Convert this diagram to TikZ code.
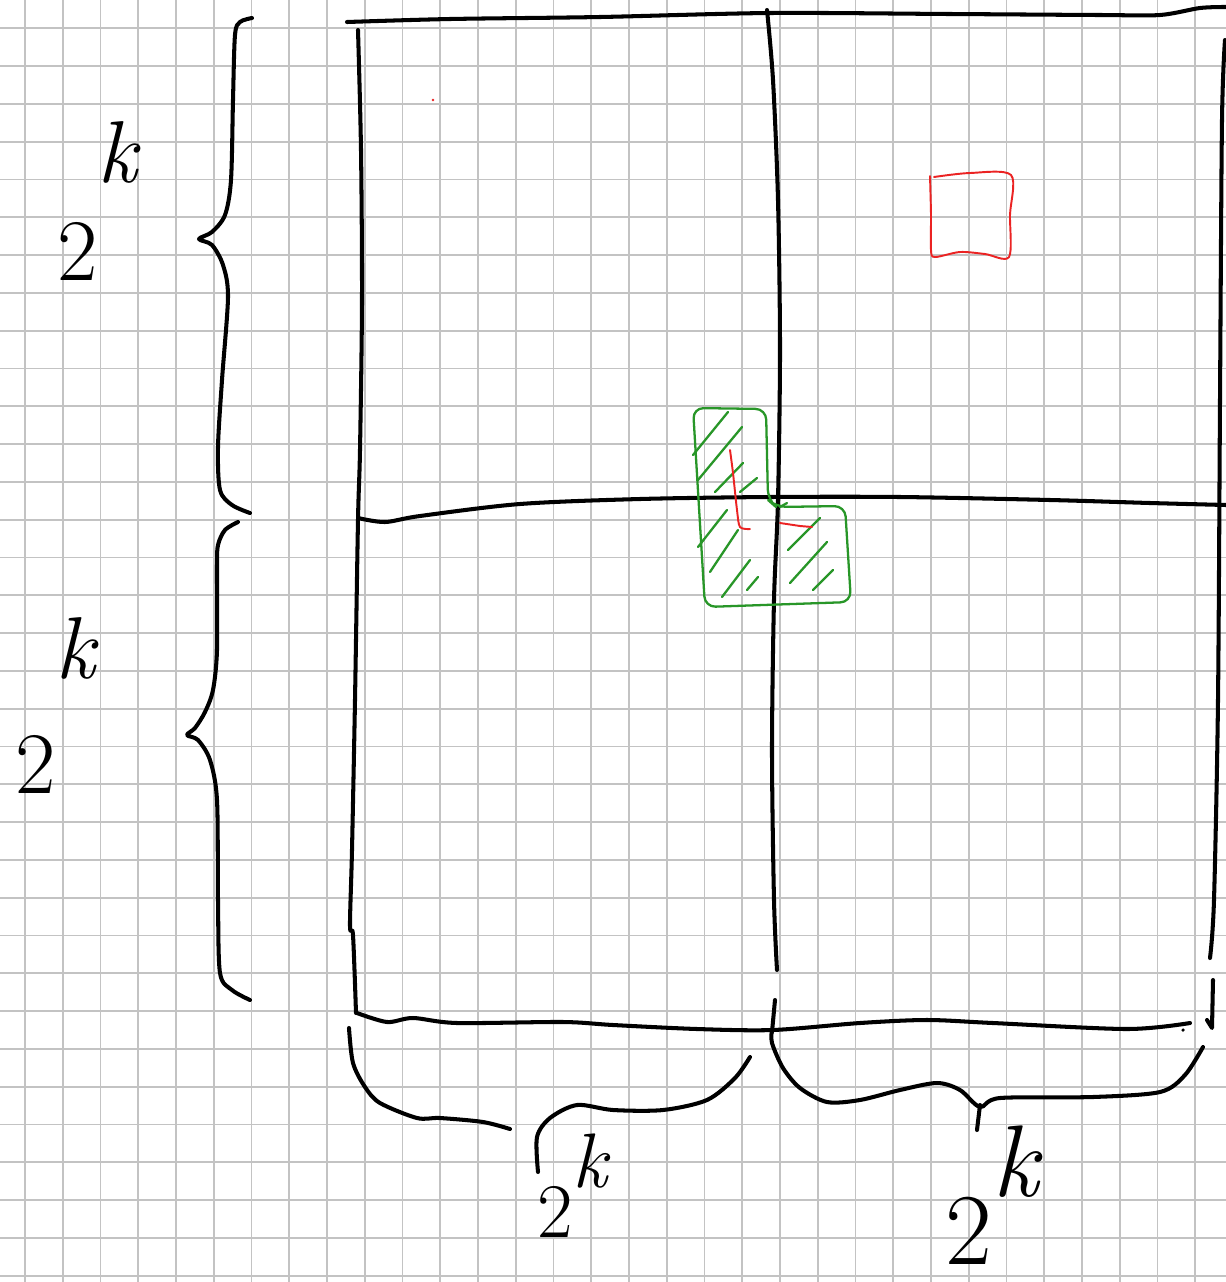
\documentclass[tikz,border=0pt]{standalone}
\usepackage{tikz}

\definecolor{inkgreen}{RGB}{40,150,40}
\definecolor{inkred}{RGB}{235,35,35}
\definecolor{gridgray}{RGB}{195,195,195}

% 2 with a raised k, raise given per label
\newcommand{\powk}[1]{2\raisebox{#1}{\itshape k}}

\begin{document}
\begin{tikzpicture}[x=0.02cm, y=-0.02cm,
    pen/.style={line width=2.3pt, line cap=round, line join=round},
    greenpen/.style={inkgreen, line width=1.3pt, line cap=round, line join=round},
    redpen/.style={inkred, line width=1.1pt, line cap=round, line join=round},
    gridline/.style={gridgray, line width=1pt},
    lbl/.style={inner sep=0pt, anchor=base west}]
    \useasboundingbox[fill=white] (0,0) rectangle (1226,1282);

    % squared paper
    \foreach \i in {0,...,31}
        \draw[gridline] ({25+37.75*\i},0) -- ({25+37.75*\i},1282);
    \foreach \j in {0,...,33}
        \draw[gridline] (0,{28.3+37.8*\j}) -- (1226,{28.3+37.8*\j});

    % outer square
    \draw[pen] plot[smooth] coordinates {(347,22) (450,19) (600,17) (770,13) (950,14) (1100,15) (1160,15) (1200,8) (1226,7)};
    \draw[pen] plot[smooth] coordinates {(358,30) (361,150) (362,300) (360,450) (358,520) (355,700) (352,850) (350,926) (353,935) (356,1013)};
    \draw[pen] plot[smooth] coordinates {(1225,40) (1222,120) (1220,400) (1218,700) (1214,900) (1210,958)};
    \draw[pen] (1213,980) -- (1212,1028) -- (1207,1020);
    \draw[pen] plot[smooth] coordinates {(357,1013) (387,1022) (413,1018) (457,1023) (563,1022) (613,1025) (697,1029) (773,1030) (860,1023) (927,1020) (993,1023) (1127,1029) (1190,1023)};
    \fill (1183,1030) circle (1pt);

    % quarters
    \draw[pen] plot[smooth] coordinates {(767,10) (773,80) (778,200) (780,350) (778,500) (774,600) (772,750) (774,900) (777,970)};
    \draw[pen] (775,1000) -- (772,1032);
    \draw[pen] plot[smooth] coordinates {(358,518) (385,522) (420,516) (520,504) (640,499) (770,497) (900,497) (1050,500) (1150,503) (1226,505)};

    % braces on the left
    \draw[pen] plot[smooth] coordinates {(252,18) (240,22) (235,35) (233,100) (231,180) (225,215) (212,232) (199,239) (212,245) (223,265) (228,297) (222,380) (218,447) (220,490) (232,505) (250,513)};
    \draw[pen] plot[smooth] coordinates {(238,522) (225,530) (218,545) (217,567) (217,650) (213,690) (205,712) (195,728) (187,735) (198,740) (210,760) (217,800) (218,900) (220,973) (232,990) (250,1000)};

    % braces below
    \draw[pen] plot[smooth] coordinates {(349,1028) (353,1063) (365,1087) (380,1103) (417,1118) (440,1118) (483,1122) (510,1129)};
    \draw[pen] plot[smooth] coordinates {(538,1172) (537,1137) (550,1118) (577,1105) (613,1110) (663,1110) (707,1100) (735,1078) (750,1057)};
    \draw[pen] plot[smooth] coordinates {(772,1030) (772,1043) (783,1068) (800,1088) (827,1102) (860,1100) (900,1090) (937,1083) (960,1090) (980,1107) (1000,1098) (1093,1097) (1160,1092) (1185,1075) (1203,1047)};
    \draw[pen] (980,1105) -- (977,1130);

    % labels
    \node[lbl, font=\fontsize{50}{50}\selectfont] (sideTop) at (57,280) {\powk{1.95cm}};
    \node[lbl, font=\fontsize{50}{50}\selectfont] (sideBot) at (15,793) {\powk{2.3cm}};
    \node[lbl, font=\fontsize{44}{44}\selectfont] (baseLeft) at (537,1237) {\powk{1.0cm}};
    \node[lbl, font=\fontsize{58}{58}\selectfont] (baseRight) at (945,1264) {\powk{1.35cm}};

    % hatched L around the centre
    \draw[greenpen, rounded corners=6pt] (693,408) -- (766,409) -- (768,500) -- (776,507) -- (845,506) -- (851,602) -- (705,607) -- cycle;
    \foreach \a/\b/\c/\d in {693/455/728/412, 698/480/742/427, 715/492/743/463, 740/492/757/478,
                             698/547/727/510, 710/572/738/530, 722/597/750/560, 747/590/758/577,
                             788/550/820/518, 790/583/827/542, 813/590/833/570, 780/507/787/503}
        \draw[greenpen] (\a,\b) -- (\c,\d);

    % red marks
    \draw[redpen] plot[smooth] coordinates {(730,450) (733,473) (737,510) (740,527) (750,529)};
    \draw[redpen] (780,523) -- (800,526) -- (812,527);
    \draw[redpen] plot[smooth] coordinates {(930,176) (931,215) (931,250) (935,257) (960,252) (985,254) (1009,257) (1010,215) (1011,175) (970,173) (934,177)};
    \fill[inkred] (433,100) circle (0.8pt);
\end{tikzpicture}
\end{document}
